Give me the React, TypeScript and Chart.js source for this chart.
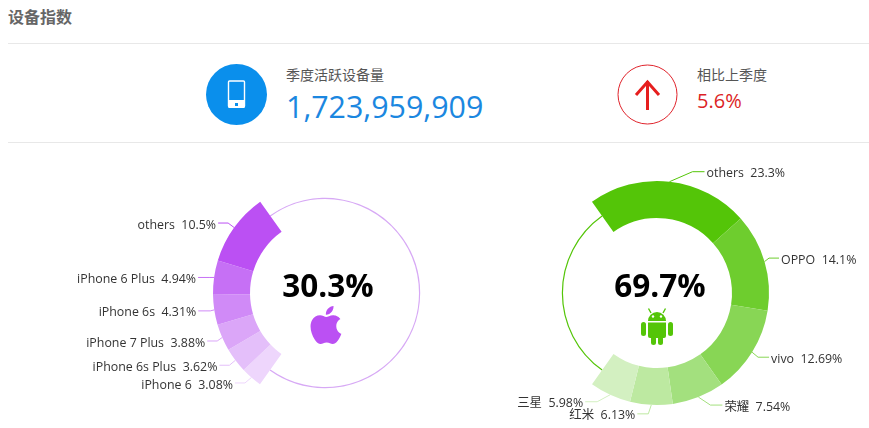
import React, { useEffect, useRef } from "react";
import { Chart, registerables } from "chart.js";

Chart.register(...registerables);

const appleNames = ["iPhone 6", "iPhone 6s Plus", "iPhone 7 Plus", "iPhone 6s", "iPhone 6 Plus", "others"];
const appleValues = [3.08, 3.62, 3.88, 4.31, 4.94, 10.5];
const androidNames = ["others", "OPPO", "vivo", "荣耀", "红米", "三星"];
const androidValues = [23.3, 14.1, 12.69, 7.54, 6.13, 5.98];
const appleShare = 30.3;
const androidShare = 69.7;

const appleColors = ["#eed6fc", "#e4bffa", "#dba6f8", "#d08af7", "#c670f5", "#bb50f3"];
const androidColors = ["#54c508", "#6ecd2e", "#88d655", "#a3e07e", "#bde9a1", "#d3f0c1"];
// per-label leader geometry: elbow offset from the arc edge, then horizontal run
const appleLeaders = [[-6.5, 5.5, 10], [-6, 5, 10], [-5, 3.5, 10], [-4, 1, 12], [-5, 0, 11], [-6, -4.5, 10]];
const androidLeaders = [[23, -10, 12], [4.5, -3.5, 10], [6, 5, 11], [12, 8, 12], [-3, 9, 11], [-13, 7, 12]];

const LABEL_FONT = '12.4px "Open Sans", "Noto Sans CJK SC", sans-serif';
const CJK = '"Open Sans", "Noto Sans CJK SC", sans-serif';

type DonutProps = {
  left: number; top: number; width: number; height: number; padLeft: number;
  names: string[]; values: number[]; colors: string[]; leaders: number[][];
  share: number; rest: number; ringColor: string; rotation: number; centerText: string;
};

function Donut(p: DonutProps) {
  const ref = useRef<HTMLCanvasElement>(null);
  useEffect(() => {
    const radiusPlugin = {
      id: "radii",
      afterDatasetsUpdate(chart: any) {
        chart.getDatasetMeta(0).data.forEach((a: any) => { a.innerRadius = 75; a.outerRadius = 112; });
        chart.getDatasetMeta(1).data.forEach((a: any) => { a.innerRadius = 94; a.outerRadius = 95.2; });
      },
    };
    const labelPlugin = {
      id: "labels",
      afterDatasetsDraw(chart: any) {
        const ctx = chart.ctx;
        const arcs = chart.getDatasetMeta(0).data;
        ctx.save();
        p.names.forEach((name, i) => {
          const a = arcs[i];
          const mid = (a.startAngle + a.endAngle) / 2;
          const sx = a.x + Math.cos(mid) * 112;
          const sy = a.y + Math.sin(mid) * 112;
          const [ex, ey, run] = p.leaders[i];
          const elbowX = sx + ex;
          const elbowY = sy + ey;
          const dir = Math.cos(mid) >= 0 ? 1 : -1;
          ctx.beginPath();
          ctx.moveTo(sx, sy);
          ctx.lineTo(elbowX, elbowY);
          ctx.lineTo(elbowX + dir * run, elbowY);
          ctx.strokeStyle = p.colors[i];
          ctx.lineWidth = 1;
          ctx.stroke();
          ctx.font = LABEL_FONT;
          ctx.fillStyle = "#333333";
          ctx.textBaseline = "middle";
          ctx.textAlign = dir > 0 ? "left" : "right";
          ctx.fillText(`${name}  ${p.values[i]}%`, elbowX + dir * (run + 2), elbowY + 2);
        });
        const c = arcs[0];
        ctx.font = 'bold 31.5px "Open Sans", sans-serif';
        ctx.fillStyle = "#000000";
        ctx.textAlign = "center";
        ctx.textBaseline = "middle";
        ctx.fillText(p.centerText, c.x + 3, c.y - 5);
        ctx.restore();
      },
    };
    const chart = new Chart(ref.current as HTMLCanvasElement, {
      type: "doughnut",
      data: {
        labels: [...p.names, "rest"],
        datasets: [
          {
            data: [...p.values, p.rest],
            backgroundColor: [...p.colors, "rgba(0,0,0,0)"],
            borderWidth: 0,
            rotation: p.rotation,
          },
          {
            data: [p.share, p.rest],
            backgroundColor: ["rgba(0,0,0,0)", p.ringColor],
            borderWidth: 0,
            rotation: p.rotation,
          },
        ],
      },
      options: {
        animation: false,
        responsive: false,
        maintainAspectRatio: false,
        layout: { padding: { left: p.padLeft, right: 0, top: 0, bottom: 0 } },
        plugins: { legend: { display: false }, tooltip: { enabled: false } },
      },
      plugins: [radiusPlugin, labelPlugin],
    } as any);
    return () => chart.destroy();
  }, []);
  return (
    <canvas
      ref={ref}
      width={p.width}
      height={p.height}
      style={{ position: "absolute", left: p.left, top: p.top, width: p.width, height: p.height }}
    />
  );
}

const text = (left: number, top: number, size: number, color: string, extra: any = {}) => ({
  position: "absolute" as const, left, top, fontSize: size, color, lineHeight: `${size + 4}px`,
  whiteSpace: "nowrap" as const, fontFamily: CJK, ...extra,
});

export default function App() {
  return (
    <div style={{ position: "absolute", left: 0, top: 0, width: 869, height: 428, overflow: "hidden", background: "#fff" }}>
      <div style={text(8, 7, 16, "#666666", { fontWeight: 700 })}>设备指数</div>
      <div style={{ position: "absolute", left: 8, top: 43, width: 861, height: 1, background: "#e8e8e8" }} />
      <div style={{ position: "absolute", left: 8, top: 142, width: 861, height: 1, background: "#e8e8e8" }} />

      <svg style={{ position: "absolute", left: 206, top: 64 }} width="61" height="61" viewBox="0 0 61 61">
        <circle cx="30.5" cy="30.5" r="30.5" fill="#0a8fec" />
        <rect x="22.5" y="17" width="16" height="26" rx="1" fill="none" stroke="#fff" strokeWidth="1.4" />
        <rect x="22.5" y="36" width="16" height="8" fill="#fff" />
        <rect x="29" y="39" width="3" height="3" fill="#0a8fec" />
      </svg>
      <div style={text(286, 66, 14, "#555555")}>季度活跃设备量</div>
      <div style={text(286, 90, 30.4, "#1b87e0")}>1,723,959,909</div>

      <svg style={{ position: "absolute", left: 617, top: 64 }} width="61" height="61" viewBox="0 0 61 61">
        <circle cx="30.5" cy="30.5" r="29.5" fill="#fff" stroke="#e0242c" strokeWidth="1" />
        <path d="M30.5 17 V46 M19 31 L30.5 18 L42 31" fill="none" stroke="#e61e1e" strokeWidth="3" />
      </svg>
      <div style={text(697, 66, 14, "#555555")}>相比上季度</div>
      <div style={text(697, 89, 20, "#dc1f26")}>5.6%</div>

      <Donut left={0} top={158} width={440} height={270} padLeft={210}
        names={appleNames} values={appleValues} colors={appleColors} leaders={appleLeaders}
        share={appleShare} rest={androidShare} ringColor="#d7a9f5" rotation={-144.5} centerText="30.3%" />
      <Donut left={445} top={158} width={424} height={270} padLeft={0}
        names={androidNames} values={androidValues} colors={androidColors} leaders={androidLeaders}
        share={androidShare} rest={appleShare} ringColor="#54c508" rotation={-35.5} centerText="69.7%" />

      <svg style={{ position: "absolute", left: 307, top: 306 }} width="38" height="38" viewBox="3 2 18 20">
        <path fill="#bb50f3" d="M18.71 19.5c-.83 1.24-1.71 2.45-3.05 2.47-1.34.03-1.77-.79-3.29-.79-1.53 0-2 .77-3.27.82-1.31.05-2.3-1.32-3.14-2.53C4.25 17 2.94 12.45 4.7 9.39c.87-1.52 2.43-2.48 4.12-2.51 1.28-.02 2.5.87 3.29.87.78 0 2.26-1.07 3.81-.91.65.03 2.47.26 3.64 1.98-.09.06-2.17 1.28-2.15 3.81.03 3.02 2.65 4.03 2.68 4.04-.03.07-.42 1.44-1.38 2.83M13 3.5c.73-.83 1.94-1.46 2.94-1.5.13 1.17-.34 2.35-1.04 3.19-.69.85-1.83 1.51-2.95 1.42-.15-1.15.41-2.35 1.05-3.11z" />
      </svg>
      <svg style={{ position: "absolute", left: 640, top: 307 }} width="34" height="38" viewBox="0 0 34 38">
        <path d="M8 14 A9 9 0 0 1 26 14 Z" fill="#54c508" />
        <path d="M11 6 L8.5 1.5 M23 6 L25.5 1.5" stroke="#54c508" strokeWidth="1.4" />
        <circle cx="13" cy="9.5" r="1.2" fill="#fff" />
        <circle cx="21" cy="9.5" r="1.2" fill="#fff" />
        <path d="M8 15.5 H26 V29 a2 2 0 0 1 -2 2 H10 a2 2 0 0 1 -2 -2 Z" fill="#54c508" />
        <rect x="1" y="15" width="5" height="14" rx="2.5" fill="#54c508" />
        <rect x="28" y="15" width="5" height="14" rx="2.5" fill="#54c508" />
        <rect x="11" y="29" width="5" height="9" rx="2.5" fill="#54c508" />
        <rect x="18" y="29" width="5" height="9" rx="2.5" fill="#54c508" />
      </svg>
    </div>
  );
}
